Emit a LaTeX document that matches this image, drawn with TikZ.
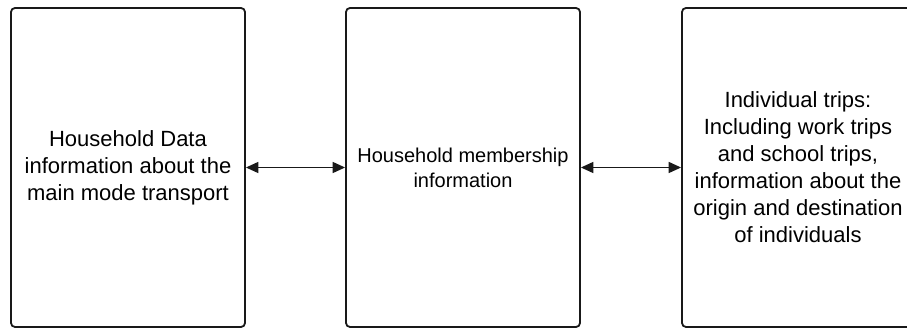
\documentclass[tikz,border=0pt]{standalone}
\usepackage{fontspec}
\setmainfont{Liberation Sans}
\usetikzlibrary{arrows.meta}
\begin{document}
\begin{tikzpicture}[x=1pt,y=1pt,
  panel/.style={draw=black!90, line width=1.8pt, rounded corners=4pt,
    minimum height=319pt, align=center, inner sep=0pt},
  bigtext/.style={font=\fontsize{22}{27}\selectfont},
  midtext/.style={font=\fontsize{20}{25}\selectfont},
  link/.style={line width=1.7pt, draw=black!90,
    {Triangle[length=12.5pt,width=11pt]}-{Triangle[length=12.5pt,width=11pt]}}]
  \useasboundingbox (0,0) rectangle (907,329);
  \clip (0,0) rectangle (907,329);
  \node[panel, bigtext, minimum width=234pt] (hh) at (128,161.5)
    {Household Data\\information about the\\main mode transport};
  \node[panel, midtext, minimum width=234pt] (mem) at (463,161.5)
    {Household membership\\information};
  \node[panel, bigtext, minimum width=232pt] (trips) at (798,161.5)
    {Individual trips:\\Including work trips\\and school trips,\\information about the\\origin and destination\\of individuals};
  \draw[link] (hh) -- (mem);
  \draw[link] (mem) -- (trips);
\end{tikzpicture}
\end{document}
